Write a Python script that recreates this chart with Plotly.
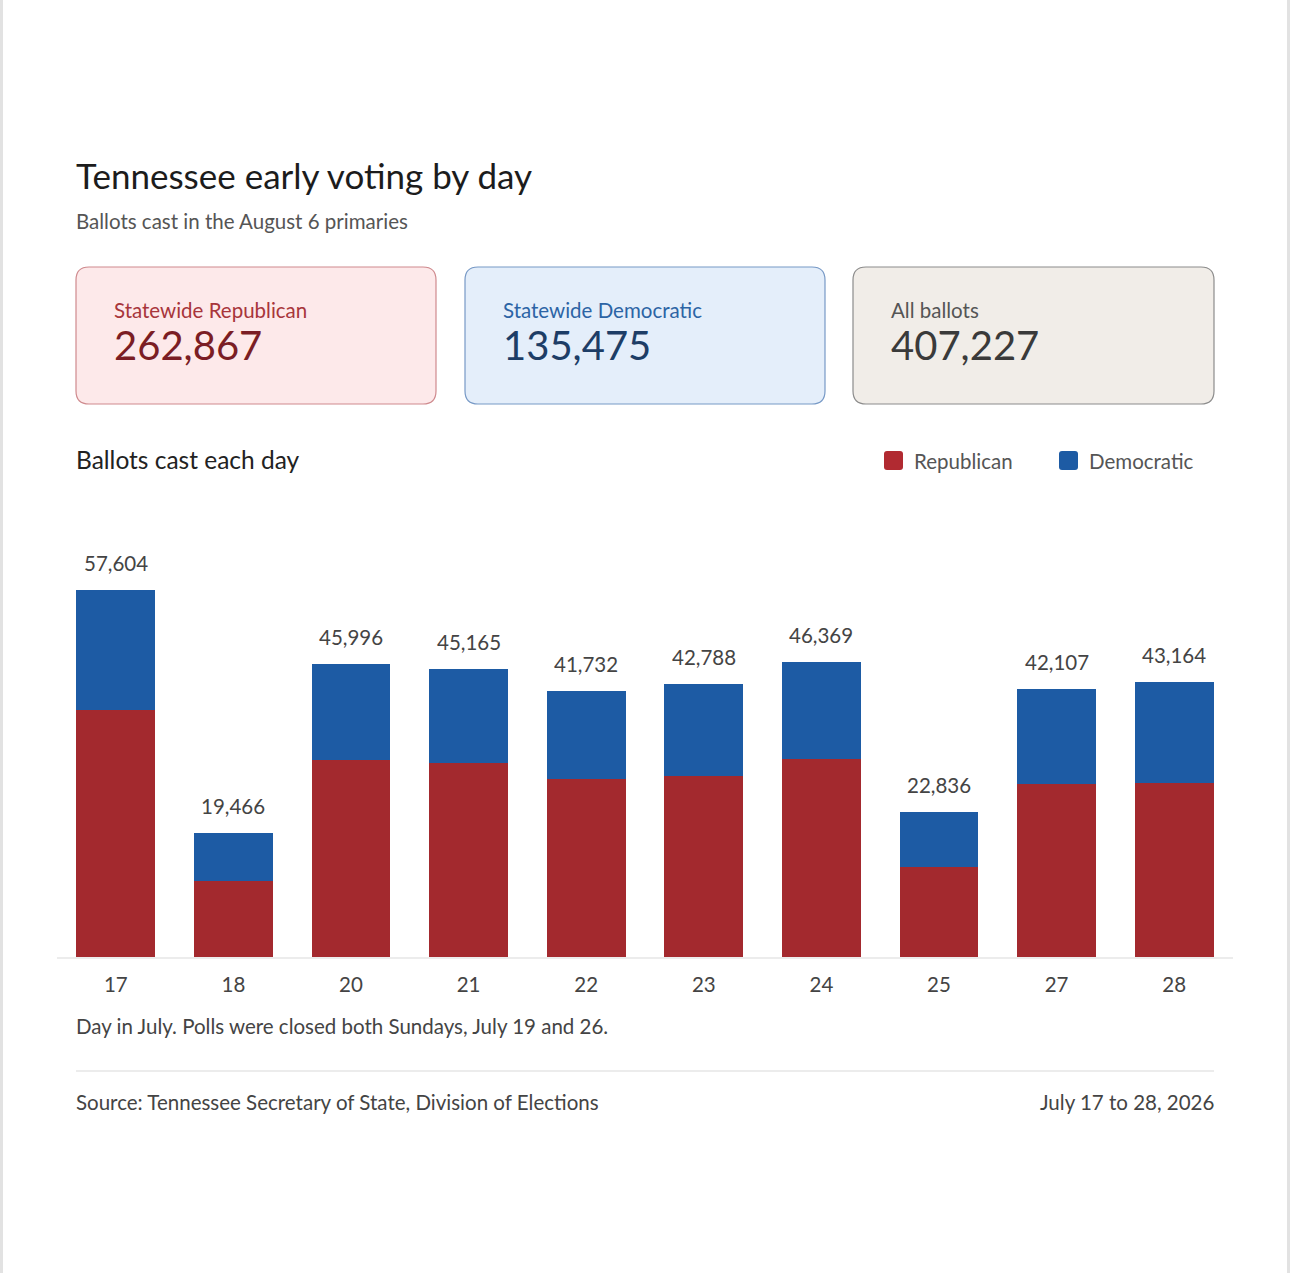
import plotly.graph_objects as go

W, H = 1290, 1273

days = ["17", "18", "20", "21", "22", "23", "24", "25", "27", "28"]
totals = [57604, 19466, 45996, 45165, 41732, 42788, 46369, 22836, 42107, 43164]
republican = [38800, 12000, 30900, 30500, 27900, 28400, 31100, 14100, 27200, 27300]
democratic = [18804, 7466, 15096, 14665, 13832, 14388, 15269, 8736, 14907, 15864]

card_labels = ["Statewide Republican", "Statewide Democratic", "All ballots"]
card_values = ["262,867", "135,475", "407,227"]

RED = "#a3292e"
BLUE = "#1d5ba4"
FONT = "Lato"


def px(x):
    return x / W


def py(y):
    return 1 - y / H


def rounded(x0, y0, x1, y1, r):
    # rounded rectangle path in paper units, from pixel corners
    rx, ry = r / W, r / H
    a, b, c, d = px(x0), py(y0), px(x1), py(y1)
    return (f"M {a+rx},{b} L {c-rx},{b} Q {c},{b} {c},{b-ry} "
            f"L {c},{d+ry} Q {c},{d} {c-rx},{d} L {a+rx},{d} "
            f"Q {a},{d} {a},{d+ry} L {a},{b-ry} Q {a},{b} {a+rx},{b} Z")


fig = go.Figure()
fig.add_trace(go.Bar(x=days, y=republican, name="Republican", marker_color=RED,
                     marker_line_width=0, hoverinfo="skip"))
fig.add_trace(go.Bar(x=days, y=democratic, name="Democratic", marker_color=BLUE,
                     marker_line_width=0, hoverinfo="skip"))

annotations = []
shapes = []


def text(x, y, s, size, color, anchor="left"):
    # annotations carry ~2px of padding, nudge to line up with pixel edges
    x = x - 2 if anchor == "left" else x + 2
    annotations.append(dict(x=px(x), y=py(y), xref="paper", yref="paper", text=s,
                            showarrow=False, xanchor=anchor, yanchor="middle",
                            font=dict(family=FONT, size=size, color=color)))


text(76, 175, "Tennessee early voting by day", 35, "#1c1c1c")
text(76, 221, "Ballots cast in the August 6 primaries", 20.5, "#555555")

# summary cards
cards = [
    (76, 436, "#fde9ea", "#cf8a8e", "#a8353b", "#7b1d24"),
    (465, 825, "#e4eefa", "#7799c6", "#2c64a5", "#1d3d66"),
    (853, 1214, "#f1ede8", "#8c8c8c", "#555555", "#3a3a3a"),
]
for (x0, x1, fill, line, lc, vc), lab, val in zip(cards, card_labels, card_values):
    shapes.append(dict(type="path", path=rounded(x0, 267, x1, 404, 13), xref="paper",
                       yref="paper", fillcolor=fill, line=dict(color=line, width=1.2),
                       layer="below"))
    text(x0 + 38, 310, lab, 20.5, lc)
    text(x0 + 38, 345, val, 40, vc)

text(76, 459, "Ballots cast each day", 24.5, "#222222")

# legend
for x0, col, lab in [(884, "#b12a31", "Republican"), (1059, "#1d5ba4", "Democratic")]:
    shapes.append(dict(type="path", path=rounded(x0, 451, x0 + 19, 470, 3), xref="paper",
                       yref="paper", fillcolor=col, line=dict(width=0)))
    text(x0 + 30, 461, lab, 20.5, "#555555")

# total labels above bars (x given as category index)
for i, t in enumerate(totals):
    annotations.append(dict(x=i, y=t, xref="x", yref="y", text=f"{t:,}", showarrow=False,
                            xanchor="center", yanchor="bottom", yshift=13,
                            font=dict(family=FONT, size=20.5, color="#444444")))

text(76, 1026, "Day in July. Polls were closed both Sundays, July 19 and 26.", 20.5, "#444444")
shapes.append(dict(type="line", x0=px(76), x1=px(1214), y0=py(1071), y1=py(1071),
                   xref="paper", yref="paper", line=dict(color="#e6e6e6", width=1.5)))
text(76, 1102, "Source: Tennessee Secretary of State, Division of Elections", 20.5, "#444444")
text(1214, 1102, "July 17 to 28, 2026", 20.5, "#444444", anchor="right")

# page edges
for x in (1.5, 1288.5):
    shapes.append(dict(type="line", x0=px(x), x1=px(x), y0=0, y1=1, xref="paper",
                       yref="paper", line=dict(color="#e2e2e2", width=3)))

fig.update_layout(
    width=W, height=H, autosize=False,
    margin=dict(l=0, r=0, t=0, b=0),
    paper_bgcolor="white", plot_bgcolor="white",
    barmode="stack", bargap=0.33, showlegend=False,
    annotations=annotations, shapes=shapes,
    font=dict(family=FONT),
)
fig.update_xaxes(type="category", range=[-0.5, len(days) - 0.5],
                 domain=[px(57), px(1233)], showgrid=False,
                 zeroline=False, showline=True, linecolor="#ececec", linewidth=1.5,
                 ticks="", ticklabelstandoff=9,
                 tickfont=dict(family=FONT, size=20.5, color="#444444"), fixedrange=True)
fig.update_yaxes(domain=[py(957), py(540)], range=[0, 65450], showgrid=False,
                 zeroline=False, showticklabels=False, fixedrange=True)

fig.write_html("out.html", config={"displayModeBar": False},
               post_script="document.body.style.margin='0';")
